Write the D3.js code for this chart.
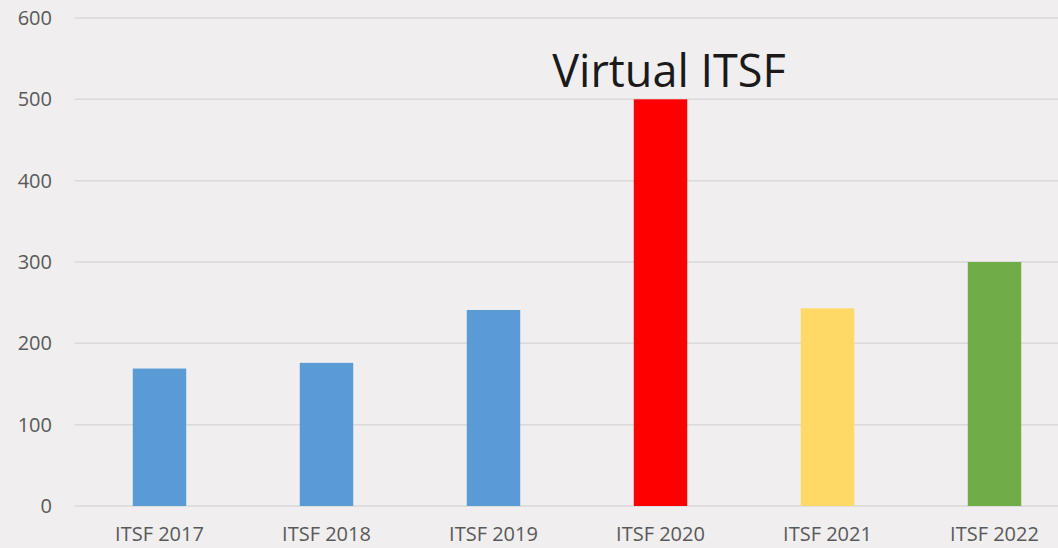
<!DOCTYPE html>
<html>
<head>
<meta charset="utf-8">
<script src="https://cdn.jsdelivr.net/npm/d3@7"></script>
<style>
  body { margin: 0; background: #f0eeef; }
  svg { display: block; }
</style>
</head>
<body>
<div id="chart"></div>
<script>
var categories = ["ITSF 2017", "ITSF 2018", "ITSF 2019", "ITSF 2020", "ITSF 2021", "ITSF 2022"];
var values = [169, 176, 241, 500, 243, 300];
var barColors = ["#5b9bd5", "#5b9bd5", "#5b9bd5", "#ff0000", "#ffd966", "#70ad47"];
var yTicks = [0, 100, 200, 300, 400, 500, 600];
var annotation = { category: "ITSF 2020", text: "Virtual ITSF" };

var width = 1058, height = 548;

var svg = d3.select("#chart")
    .append("svg")
    .attr("width", width)
    .attr("height", height);

svg.append("rect")
    .attr("width", width)
    .attr("height", height)
    .attr("fill", "#f0eeef");

var x = d3.scaleBand()
    .domain(categories)
    .range([76, 1078])
    .paddingInner(0.68)
    .paddingOuter(0.34);

var y = d3.scaleLinear()
    .domain([0, 600])
    .range([506, 18]);

// gridlines
svg.selectAll(".grid")
    .data(yTicks)
    .enter()
    .append("line")
    .attr("class", "grid")
    .attr("x1", 75)
    .attr("x2", width)
    .attr("y1", function(d) { return y(d); })
    .attr("y2", function(d) { return y(d); })
    .attr("stroke", "#d9d9d9")
    .attr("stroke-width", 1.5);

// y labels
svg.selectAll(".ylab")
    .data(yTicks)
    .enter()
    .append("text")
    .attr("class", "ylab")
    .attr("x", 52)
    .attr("y", function(d) { return y(d); })
    .attr("dy", "0.35em")
    .attr("text-anchor", "end")
    .attr("font-family", "Open Sans, sans-serif")
    .attr("font-size", 20)
    .attr("fill", "#595959")
    .text(function(d) { return d; });

// bars
svg.selectAll(".bar")
    .data(values)
    .enter()
    .append("rect")
    .attr("class", "bar")
    .attr("x", function(d, i) { return x(categories[i]); })
    .attr("width", x.bandwidth())
    .attr("y", function(d) { return y(d); })
    .attr("height", function(d) { return y(0) - y(d); })
    .attr("fill", function(d, i) { return barColors[i]; });

// x labels (kept just inside the bottom edge)
svg.selectAll(".xlab")
    .data(categories)
    .enter()
    .append("text")
    .attr("class", "xlab")
    .attr("x", function(d) { return x(d) + x.bandwidth() / 2; })
    .attr("y", 541)
    .attr("text-anchor", "middle")
    .attr("font-family", "Open Sans, sans-serif")
    .attr("font-size", 20)
    .attr("fill", "#595959")
    .text(function(d) { return d; });

// annotation
var ai = categories.indexOf(annotation.category);
svg.append("text")
    .attr("x", x(annotation.category) + x.bandwidth() / 2 + 8.5)
    .attr("y", y(values[ai]) - 12)
    .attr("text-anchor", "middle")
    .attr("font-family", "Open Sans, sans-serif")
    .attr("font-size", 45)
    .attr("fill", "#1a1a1a")
    .text(annotation.text);
</script>
</body>
</html>
